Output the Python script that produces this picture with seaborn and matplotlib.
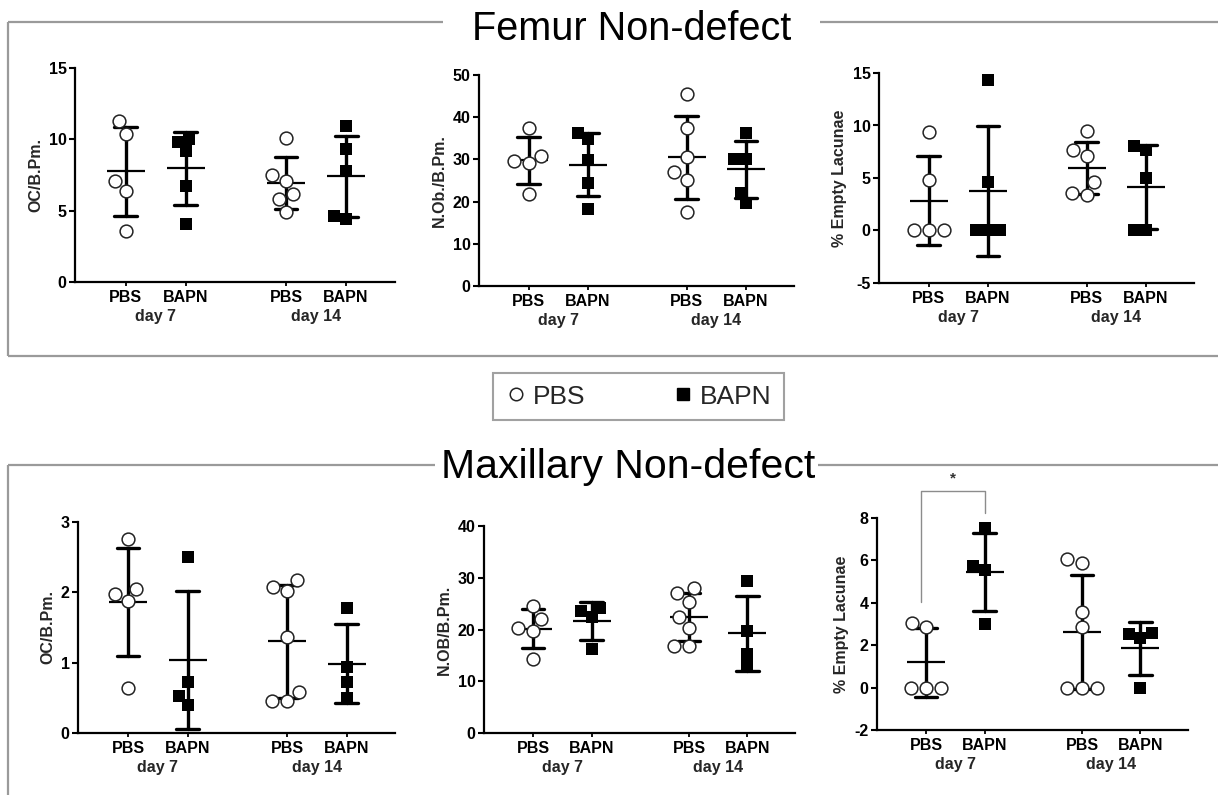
import numpy as np
import pandas as pd
import matplotlib
matplotlib.use("Agg")
import matplotlib.pyplot as plt
from matplotlib.lines import Line2D
import seaborn as sns

# ---------------- data ----------------
groups = ["PBS", "BAPN"]
days = ["day 7", "day 14"]

# Femur Non-defect
f_oc_pbs7 = [11.3, 10.4, 7.1, 6.4, 3.6]
f_oc_bapn7 = [10.0, 9.2, 9.8, 6.7, 4.1]
f_oc_pbs14 = [10.1, 7.5, 7.1, 6.2, 5.8, 4.9]
f_oc_bapn14 = [10.9, 9.3, 7.8, 4.4, 4.6]

f_nob_pbs7 = [37.4, 30.9, 29.1, 29.6, 21.7]
f_nob_bapn7 = [36.2, 34.8, 29.9, 24.5, 18.3]
f_nob_pbs14 = [45.4, 37.5, 30.5, 26.9, 25.1, 17.5]
f_nob_bapn14 = [36.2, 30.1, 30.1, 22.1, 19.6]

f_el_pbs7 = [9.4, 4.8, 0.0, 0.0, 0.0]
f_el_bapn7 = [14.3, 4.6, 0.0, 0.0, 0.0]
f_el_pbs14 = [9.5, 7.7, 7.1, 4.6, 3.4, 3.6]
f_el_bapn14 = [8.0, 7.7, 5.0, 0.0, 0.0]

# Maxillary Non-defect
m_oc_pbs7 = [2.76, 1.97, 2.05, 1.88, 0.64]
m_oc_bapn7 = [2.50, 0.73, 0.52, 0.40]
m_oc_pbs14 = [2.08, 2.17, 2.02, 1.36, 0.58, 0.45, 0.46]
m_oc_bapn14 = [1.78, 0.94, 0.73, 0.50]

m_nob_pbs7 = [24.6, 22.0, 20.3, 19.7, 14.3]
m_nob_bapn7 = [24.1, 23.5, 22.5, 16.2]
m_nob_pbs14 = [28.0, 27.0, 25.4, 22.4, 20.3, 16.9, 16.9]
m_nob_bapn14 = [29.3, 19.7, 15.2, 12.9]

m_el_pbs7 = [3.06, 2.87, 0.0, 0.0, 0.0]
m_el_bapn7 = [7.52, 5.74, 5.56, 3.02]
m_el_pbs14 = [6.05, 5.9, 3.57, 2.84, 0.0, 0.0, 0.0]
m_el_bapn14 = [2.56, 2.51, 2.35, 0.0]

section_titles = ["Femur Non-defect", "Maxillary Non-defect"]

# ---------------- style ----------------
sns.set_style("ticks")
plt.rcParams["font.family"] = ["Liberation Sans", "DejaVu Sans"]
plt.rcParams["font.weight"] = "bold"
plt.rcParams["axes.unicode_minus"] = False

W, H = 1218, 795
fig = plt.figure(figsize=(W / 100, H / 100), dpi=100)
fig.patch.set_facecolor("white")

DAY_GAP = 2.667
FRAME = "#9a9a9a"
FS = 11.5


def build(pbs7, bapn7, pbs14, bapn14):
    rows = []
    for di, day in enumerate(days):
        for gi, g in enumerate(groups):
            vals = [[pbs7, bapn7], [pbs14, bapn14]][di][gi]
            for v in vals:
                rows.append({"day": day, "group": g, "value": v,
                             "pos": di * DAY_GAP + gi})
    return pd.DataFrame(rows)


def draw_panel(rect_px, df, ylim, yticks, ylabel):
    l, t, r, b = rect_px
    ax = fig.add_axes([l / W, 1 - b / H, (r - l) / W, (b - t) / H])
    pbs = df[df.group == "PBS"]
    bapn = df[df.group == "BAPN"]
    sns.swarmplot(data=pbs, x="pos", y="value", native_scale=True, orient="x",
                  ax=ax, marker="o", size=9.2, color="white",
                  edgecolor="#222222", linewidth=1.1)
    sns.swarmplot(data=bapn, x="pos", y="value", native_scale=True, orient="x",
                  ax=ax, marker="s", size=8.3, color="black",
                  edgecolor="black", linewidth=0)
    sns.pointplot(data=df, x="pos", y="value", hue="group", hue_order=groups,
                  palette=["black", "black"], native_scale=True, orient="x",
                  errorbar="sd", capsize=0.38, markers="_", linestyles="none",
                  markersize=27, markeredgewidth=1.6,
                  err_kws={"linewidth": 2.4}, legend=False, ax=ax)
    ax.set_xlim(-0.84, 4.48)
    ax.set_ylim(*ylim)
    ax.set_yticks(yticks)
    ax.set_yticklabels([str(v) for v in yticks])
    pos = [di * DAY_GAP + gi for di in range(2) for gi in range(2)]
    ax.set_xticks(pos)
    ax.set_xticklabels(groups * 2)
    for di, day in enumerate(days):
        ax.annotate(day, xy=(di * DAY_GAP + 0.5, 0), xycoords=("data", "axes fraction"),
                    xytext=(0, -25), textcoords="offset points",
                    ha="center", va="center", fontsize=FS, fontweight="bold")
    ax.set_xlabel("")
    ax.set_ylabel(ylabel, fontsize=FS, fontweight="bold", labelpad=4)
    sns.despine(ax=ax)
    for s in ["left", "bottom"]:
        ax.spines[s].set_linewidth(1.6)
        ax.spines[s].set_color("black")
    ax.tick_params(axis="y", length=4, width=1.5, labelsize=FS, pad=2, colors="black")
    ax.tick_params(axis="x", length=3, width=1.3, labelsize=FS, pad=3, colors="black")
    ax.grid(False)
    return ax


panels = [
    ((75, 68, 395, 282), build(f_oc_pbs7, f_oc_bapn7, f_oc_pbs14, f_oc_bapn14),
     (0, 15), [0, 5, 10, 15], "OC/B.Pm."),
    ((479, 75, 794, 286), build(f_nob_pbs7, f_nob_bapn7, f_nob_pbs14, f_nob_bapn14),
     (0, 50), [0, 10, 20, 30, 40, 50], "N.Ob./B.Pm."),
    ((879, 73, 1194, 283), build(f_el_pbs7, f_el_bapn7, f_el_pbs14, f_el_bapn14),
     (-5, 15), [-5, 0, 5, 10, 15], "% Empty Lacunae"),
    ((78, 522, 395, 733), build(m_oc_pbs7, m_oc_bapn7, m_oc_pbs14, m_oc_bapn14),
     (0, 3), [0, 1, 2, 3], "OC/B.Pm."),
    ((484, 526, 795, 733), build(m_nob_pbs7, m_nob_bapn7, m_nob_pbs14, m_nob_bapn14),
     (0, 40), [0, 10, 20, 30, 40], "N.OB/B.Pm."),
    ((877, 518, 1188, 730), build(m_el_pbs7, m_el_bapn7, m_el_pbs14, m_el_bapn14),
     (-2, 8), [-2, 0, 2, 4, 6, 8], "% Empty Lacunae"),
]

axes = [draw_panel(*p) for p in panels]

# significance bracket (maxillary, % empty lacunae, day 7)
ax6 = axes[5]
y_left = max(m_el_pbs7) + 1.0
y_top = 8 + 1.27
y_right = max(m_el_bapn7) + 0.7
ax6.plot([-0.08, -0.08, 1.0, 1.0], [y_left, y_top, y_top, y_right],
         color="#8c8c8c", lw=1.0, clip_on=False)
ax6.text(0.46, y_top + 0.6, "*", ha="center", va="center", fontsize=11,
         color="#333333", clip_on=False)


# ---------------- frames and titles ----------------
def fline(xs, ys):
    fig.add_artist(Line2D([x / W for x in xs], [1 - y / H for y in ys],
                          color=FRAME, lw=1.6, solid_capstyle="butt"))


fline([8, 443], [22, 22]); fline([820, 1218], [22, 22])
fline([8, 8], [22, 356]); fline([8, 1218], [356, 356])
fline([8, 435], [465, 465]); fline([818, 1218], [465, 465])
fline([8, 8], [465, 795])

fig.text(632 / W, 1 - 40 / H, section_titles[0], ha="center", va="baseline",
         fontsize=28.5, fontweight="normal", color="black")
fig.text(628 / W, 1 - 478 / H, section_titles[1], ha="center", va="baseline",
         fontsize=29.5, fontweight="normal", color="black")

# legend
handles = [Line2D([], [], marker="o", ls="none", mfc="white", mec="#222222", mew=1.1, ms=9),
           Line2D([], [], marker="s", ls="none", mfc="black", mec="black", ms=9)]
leg = fig.legend(handles=handles, labels=groups, ncol=2, loc="center",
                 bbox_to_anchor=(638.5 / W, 1 - 396.5 / H), frameon=True,
                 fancybox=False, edgecolor="#8a8a8a",
                 prop={"size": 19, "weight": "normal"},
                 handlelength=0.8, handletextpad=0.25, columnspacing=3.3,
                 borderpad=0.45, borderaxespad=0)
leg.get_frame().set_linewidth(1.5)

fig.savefig("out.png", dpi=100, facecolor="white")
